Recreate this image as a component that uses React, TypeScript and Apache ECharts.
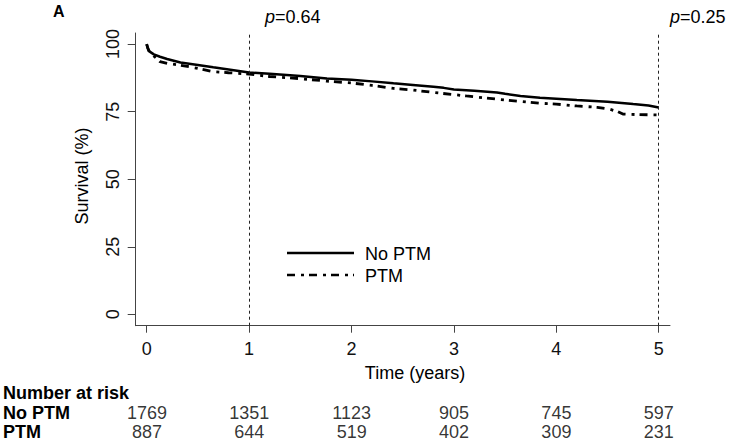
import React, { useEffect, useRef } from "react";
import * as echarts from "echarts";

const noPtmT = [0, 0.01, 0.03, 0.07, 0.13, 0.2, 0.33, 0.5, 0.65, 0.8, 1.0, 1.2, 1.5, 1.76, 2.0, 2.2, 2.41, 2.6, 2.8, 2.9, 3.0, 3.2, 3.42, 3.5, 3.65, 3.84, 4.0, 4.2, 4.5, 4.75, 4.9, 5.0];
const noPtmV = [100, 98.5, 97.2, 96.2, 95.3, 94.5, 93.2, 92.3, 91.4, 90.6, 89.5, 89.0, 88.2, 87.3, 86.8, 86.2, 85.5, 84.9, 84.2, 83.8, 83.2, 82.7, 82.1, 81.6, 80.8, 80.1, 79.8, 79.3, 78.7, 77.8, 77.3, 76.5];
const ptmT = [0, 0.02, 0.06, 0.13, 0.2, 0.33, 0.5, 0.65, 0.8, 1.0, 1.2, 1.5, 1.76, 2.0, 2.2, 2.41, 2.6, 2.8, 3.0, 3.12, 3.3, 3.45, 3.65, 3.84, 4.0, 4.2, 4.4, 4.52, 4.6, 4.65, 4.8, 5.0];
const ptmV = [100, 97.5, 95.9, 93.5, 92.9, 92.2, 91.0, 89.8, 89.4, 88.9, 88.0, 87.2, 86.3, 85.6, 84.7, 83.6, 83.0, 82.1, 81.3, 80.8, 80.1, 79.5, 78.8, 78.1, 77.8, 77.1, 76.6, 75.9, 75.0, 74.1, 73.9, 73.8];

const xTicks = [0, 1, 2, 3, 4, 5];
const yTicks = [0, 25, 50, 75, 100];
const pLines = [1, 5];
const pLabels = ["0.64", "0.25"];
const riskTimes = [0, 1, 2, 3, 4, 5];
const riskGroups = ["No PTM", "PTM"];
const riskNoPtm = [1769, 1351, 1123, 905, 745, 597];
const riskPtm = [887, 644, 519, 402, 309, 231];

const FONT = "'Liberation Sans', Arial, Helvetica, sans-serif";
const DASHDOT = [8, 6, 3, 5];
const AXIS_COLOR = "#444";

export default function App() {
  const ref = useRef<HTMLDivElement>(null);
  useEffect(() => {
    if (!ref.current) return;
    const chart = echarts.init(ref.current, undefined, { renderer: "svg" });
    const xMin = -0.107;
    const xMax = 5.11;
    const option: any = {
      animation: false,
      backgroundColor: "#fff",
      textStyle: { fontFamily: FONT },
      grid: [
        { left: 135.7, right: 60, top: 33, bottom: 115.3, containLabel: false },
        { left: 135.7, right: 60, top: 403, height: 38, containLabel: false },
      ],
      xAxis: [
        {
          type: "value",
          gridIndex: 0,
          min: xMin,
          max: xMax,
          splitLine: { show: false },
          axisLine: { show: true, onZero: false, lineStyle: { color: AXIS_COLOR, width: 1 } },
          axisTick: { show: true, length: 7, customValues: xTicks, lineStyle: { color: AXIS_COLOR } },
          axisLabel: { customValues: xTicks, margin: 14, color: "#111", fontSize: 18, fontFamily: FONT },
        },
        {
          type: "value",
          gridIndex: 1,
          min: xMin,
          max: xMax,
          show: false,
        },
      ],
      yAxis: [
        {
          type: "value",
          gridIndex: 0,
          min: -4.2,
          max: 104.1,
          splitLine: { show: false },
          axisLine: { show: true, onZero: false, lineStyle: { color: AXIS_COLOR, width: 1 } },
          axisTick: { show: true, length: 8, customValues: yTicks, lineStyle: { color: AXIS_COLOR } },
          axisLabel: { customValues: yTicks, rotate: 90, margin: 14, color: "#111", fontSize: 18, fontFamily: FONT },
        },
        {
          type: "category",
          gridIndex: 1,
          data: riskGroups,
          inverse: true,
          axisLine: { show: false },
          axisTick: { show: false },
          axisLabel: { show: true, interval: 0, hideOverlap: false, align: "left", margin: 133, color: "#000", fontSize: 18, fontWeight: "bold", fontFamily: FONT },
        },
      ],
      series: [
        {
          name: "No PTM",
          type: "line",
          xAxisIndex: 0,
          yAxisIndex: 0,
          data: noPtmT.map((t, i) => [t, noPtmV[i]]),
          showSymbol: false,
          symbol: "none",
          lineStyle: { color: "#000", width: 2.5, type: "solid" },
          markLine: {
            silent: true,
            symbol: "none",
            label: { show: false },
            lineStyle: { color: "#222", width: 1, type: [3, 3] },
            data: pLines.map((x) => ({ xAxis: x })),
          },
        },
        {
          name: "PTM",
          type: "line",
          xAxisIndex: 0,
          yAxisIndex: 0,
          data: ptmT.map((t, i) => [t, ptmV[i]]),
          showSymbol: false,
          symbol: "none",
          lineStyle: { color: "#000", width: 2.8, type: DASHDOT },
        },
        {
          type: "scatter",
          xAxisIndex: 1,
          yAxisIndex: 1,
          symbolSize: 0,
          data: [
            ...riskTimes.map((t, i) => [t, riskGroups[0], riskNoPtm[i]]),
            ...riskTimes.map((t, i) => [t, riskGroups[1], riskPtm[i]]),
          ],
          label: {
            show: true,
            position: "inside",
            color: "#000",
            fontSize: 18,
            fontFamily: FONT,
            formatter: (p: any) => String(p.value[2]),
          },
        },
      ],
      graphic: [
        { type: "text", x: 53, y: 11, style: { text: "A", font: `bold 16px ${FONT}`, fill: "#000", verticalAlign: "middle" } },
        {
          type: "text",
          x: 265,
          y: 17,
          style: {
            text: `{i|p}=${pLabels[0]}`,
            rich: { i: { fontStyle: "italic", fontSize: 18, fontFamily: FONT } },
            font: `18px ${FONT}`,
            fill: "#000",
            verticalAlign: "middle",
          },
        },
        {
          type: "text",
          x: 670,
          y: 17,
          style: {
            text: `{i|p}=${pLabels[1]}`,
            rich: { i: { fontStyle: "italic", fontSize: 18, fontFamily: FONT } },
            font: `18px ${FONT}`,
            fill: "#000",
            verticalAlign: "middle",
          },
        },
        {
          type: "text",
          x: 82,
          y: 176,
          rotation: Math.PI / 2,
          style: { text: "Survival (%)", font: `18px ${FONT}`, fill: "#000", align: "center", verticalAlign: "middle" },
        },
        {
          type: "text",
          x: 415,
          y: 373,
          style: { text: "Time (years)", font: `18px ${FONT}`, fill: "#000", align: "center", verticalAlign: "middle" },
        },
        {
          type: "text",
          x: 3,
          y: 393,
          style: { text: "Number at risk", font: `bold 18px ${FONT}`, fill: "#000", align: "left", verticalAlign: "middle" },
        },
        { type: "line", shape: { x1: 287, y1: 253, x2: 354, y2: 253 }, style: { stroke: "#000", lineWidth: 2.5 } },
        { type: "line", shape: { x1: 287, y1: 275, x2: 354, y2: 275 }, style: { stroke: "#000", lineWidth: 2.5, lineDash: DASHDOT } },
        { type: "text", x: 365, y: 254, style: { text: "No PTM", font: `18px ${FONT}`, fill: "#000", verticalAlign: "middle" } },
        { type: "text", x: 365, y: 276, style: { text: "PTM", font: `18px ${FONT}`, fill: "#000", verticalAlign: "middle" } },
      ],
    };
    chart.setOption(option);
    return () => chart.dispose();
  }, []);
  return <div ref={ref} style={{ position: "fixed", left: 0, top: 0, width: 730, height: 441 }} />;
}
